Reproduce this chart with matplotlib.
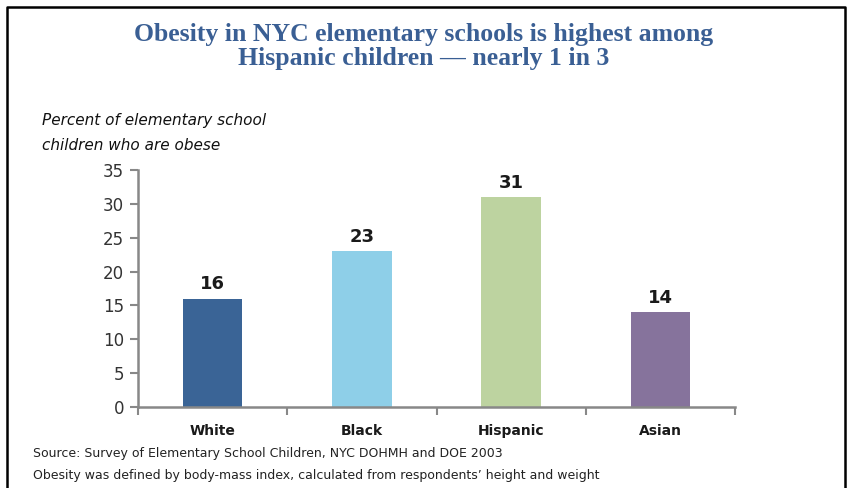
import matplotlib.pyplot as plt
from matplotlib.lines import Line2D

groups = ['White', 'Black', 'Hispanic', 'Asian']
obese_pct = [16, 23, 31, 14]
bar_colors = ['#3a6496', '#8ecfe8', '#bdd3a0', '#86739c']
yticks = [0, 5, 10, 15, 20, 25, 30, 35]

fig = plt.figure(figsize=(8.48, 4.88), dpi=100)
ax = fig.add_axes([138/848, 81/488, 597/848, 237/488])

x = list(range(len(groups)))
bars = ax.bar(x, obese_pct, width=0.4, color=bar_colors)
for b, v in zip(bars, obese_pct):
    ax.text(b.get_x() + b.get_width()/2, v + 0.8, str(v), ha='center', va='bottom',
            fontsize=13, fontweight='bold', color='#1a1a1a')

ax.set_xlim(-0.5, len(groups) - 0.5)
ax.set_ylim(0, 35)
ax.set_yticks(yticks)
ax.set_yticklabels([str(t) for t in yticks], fontsize=12, color='#333333')
ax.set_xticks(x)
ax.set_xticklabels(groups, fontsize=10, fontweight='bold', color='#1a1a1a')
ax.tick_params(axis='x', length=0, pad=12)
ax.tick_params(axis='y', length=6, width=1.5, color='#888888', pad=4)
# separator ticks between categories
ax.set_xticks([i - 0.5 for i in range(len(groups) + 1)], minor=True)
ax.tick_params(axis='x', which='minor', length=6, width=1.5, color='#888888')
for s in ['top', 'right']:
    ax.spines[s].set_visible(False)
for s in ['left', 'bottom']:
    ax.spines[s].set_color('#888888')
    ax.spines[s].set_linewidth(1.8)

fig.text(0.5, 1 - 35/488, 'Obesity in NYC elementary schools is highest among',
         ha='center', va='center', fontsize=18.5, fontweight='bold',
         family='Liberation Serif', color='#3a5f94')
fig.text(0.5, 1 - 59/488, 'Hispanic children \u2014 nearly 1 in 3',
         ha='center', va='center', fontsize=18.5, fontweight='bold',
         family='Liberation Serif', color='#3a5f94')

fig.text(42/848, 1 - 120/488, 'Percent of elementary school', ha='left', va='center',
         fontsize=11, style='italic', color='#111111')
fig.text(42/848, 1 - 146/488, 'children who are obese', ha='left', va='center',
         fontsize=11, style='italic', color='#111111')

fig.text(33/848, 1 - 453/488, 'Source: Survey of Elementary School Children, NYC DOHMH and DOE 2003',
         ha='left', va='center', fontsize=9, color='#222222')
fig.text(33/848, 1 - 476/488,
         'Obesity was defined by body-mass index, calculated from respondents\u2019 height and weight',
         ha='left', va='center', fontsize=9, color='#222222')

# frame around the panel (open at the bottom)
fx = [6.5/848, 6.5/848, 845/848, 845/848]
fy = [0, 1 - 6.5/488, 1 - 6.5/488, 0]
fig.add_artist(Line2D(fx, fy, color='black', linewidth=1.8, transform=fig.transFigure))

fig.savefig('out.png', dpi=100)
